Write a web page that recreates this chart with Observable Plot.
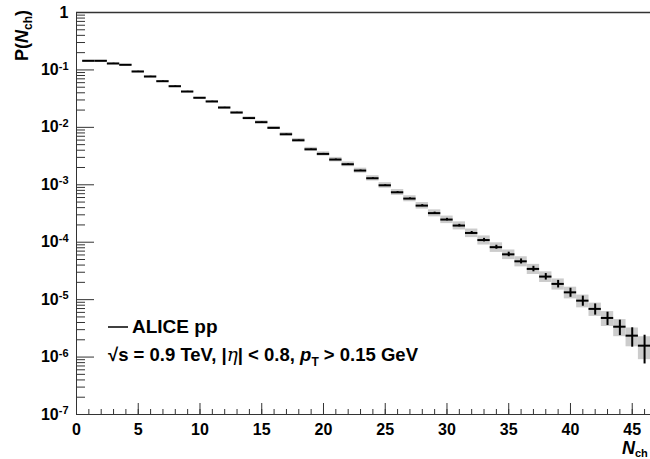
<!DOCTYPE html>
<html><head><meta charset="utf-8">
<script src="https://cdn.jsdelivr.net/npm/d3@7"></script>
<script src="https://cdn.jsdelivr.net/npm/@observablehq/plot@0.6"></script>
<style>html,body{margin:0;padding:0;background:#fff;overflow:hidden} svg{display:block}</style>
</head><body><div id="chart"></div>
<script>
// multiplicity bins (N_ch)
const nch = [1,2,3,4,5,6,7,8,9,10,11,12,13,14,15,16,17,18,19,20,21,22,23,24,25,26,27,28,29,30,31,32,33,34,35,36,37,38,39,40,41,42,43,44,45,46];
// P(N_ch)
const prob = [0.144,0.144,0.1293,0.1227,0.0938,0.0767,0.0636,0.052,0.042,0.0327,0.0282,0.0221,0.0181,0.0145,0.0123,0.0098,0.00758,0.00596,0.00415,0.00345,0.00275,0.00228,0.00177,0.0013,0.00098,0.00074,0.000575,0.000434,0.000321,0.000248,0.000195,0.000145,0.000109,8.2e-5,6.15e-5,4.65e-5,3.43e-5,2.52e-5,1.88e-5,1.34e-5,9.6e-6,6.9e-6,4.8e-6,3.38e-6,2.36e-6,1.58e-6];
// relative statistical errors (vertical bars)
const statErr = [0.01,0.01,0.01,0.01,0.01,0.01,0.01,0.01,0.01,0.01,0.01,0.01,0.01,0.01,0.01,0.01,0.01,0.01,0.01,0.02,0.02,0.02,0.02,0.02,0.02,0.03,0.03,0.04,0.04,0.05,0.05,0.06,0.07,0.08,0.09,0.10,0.11,0.13,0.15,0.18,0.20,0.22,0.26,0.30,0.37,0.52];
// relative systematic errors (grey boxes)
const systErr = [0.03,0.03,0.03,0.03,0.03,0.03,0.03,0.03,0.03,0.03,0.04,0.045,0.05,0.055,0.06,0.06,0.07,0.075,0.08,0.085,0.09,0.095,0.10,0.105,0.11,0.115,0.12,0.13,0.14,0.15,0.16,0.17,0.18,0.19,0.19,0.20,0.20,0.21,0.22,0.23,0.25,0.26,0.29,0.33,0.36,0.43];
// axis ticks
const xMajorTicks = [0,5,10,15,20,25,30,35,40,45];
const xMinorTicks = [0,1,2,3,4,5,6,7,8,9,10,11,12,13,14,15,16,17,18,19,20,21,22,23,24,25,26,27,28,29,30,31,32,33,34,35,36,37,38,39,40,41,42,43,44,45,46];
const yDecades = [1e-7,1e-6,1e-5,1e-4,1e-3,1e-2,1e-1,1];
const yMinorMult = [2,3,4,5,6,7,8,9];
const legendEntry = "ALICE pp";

const rows = nch.map((n, i) => ({n, p: prob[i], stat: statErr[i], syst: systErr[i]}));
const yMinor = yDecades.slice(0, -1).flatMap(d => yMinorMult.map(m => m * d));
const axisColor = "#333";
const font = "'Liberation Sans', Arial, sans-serif";

const svg = Plot.plot({
  width: 650, height: 459,
  marginLeft: 76, marginRight: 0, marginTop: 12, marginBottom: 45,
  style: {fontFamily: font, fontWeight: "bold", fontSize: "16px", background: "#fff", overflow: "visible"},
  x: {domain: [0, 46.48], label: null},
  y: {type: "log", domain: [1e-7, 1], label: null},
  marks: [
    Plot.rect(rows, {x1: d => d.n - 0.5, x2: d => d.n + 0.5, y1: d => d.p * (1 - d.syst), y2: d => d.p * (1 + d.syst), fill: "#cccccc"}),
    Plot.ruleX(rows, {x: "n", y1: d => d.p * (1 - d.stat), y2: d => d.p * (1 + d.stat), stroke: "black", strokeWidth: 2}),
    Plot.ruleY(rows, {y: "p", x1: d => d.n - 0.5, x2: d => d.n + 0.5, stroke: "black", strokeWidth: 2}),
    // frame
    Plot.ruleY([1], {stroke: axisColor, strokeWidth: 1.5}),
    Plot.ruleY([1e-7], {stroke: axisColor}),
    Plot.ruleX([0], {stroke: axisColor}),
    // inward ticks
    Plot.axisX(xMinorTicks, {tickSize: -5, tickFormat: () => "", stroke: axisColor, label: null}),
    Plot.axisX(xMajorTicks, {tickSize: -11, tickFormat: () => "", stroke: axisColor, label: null}),
    Plot.axisX(xMajorTicks, {tickSize: 0, tickPadding: 9, tickFormat: d => String(d), label: null, fill: "black"}),
    Plot.axisY(yMinor, {tickSize: -9, tickFormat: () => "", stroke: axisColor, label: null}),
    Plot.axisY(yDecades, {tickSize: -18, tickFormat: () => "", stroke: axisColor, label: null}),
    Plot.axisY(yDecades, {tickSize: 0, tickPadding: 8, label: null, fill: "black",
      tickFormat: d => d === 1 ? "1" : "10^" + Math.round(Math.log10(d))})
  ]
});

const s = d3.select(svg);
s.selectAll('g[aria-label="y-axis tick label"] text').each(function () {
  const t = this.textContent;
  if (t.includes("^")) {
    const [b, e] = t.split("^");
    this.textContent = b;
    d3.select(this).append("tspan").attr("dy", "-0.5em").attr("font-size", "11px").text(e);
  }
});
s.selectAll('g[aria-label$="tick label"]').attr("font-weight", "bold");

function addText(attrs) {
  const t = s.append("text").attr("text-anchor", "start").attr("font-family", font).attr("font-weight", "bold").attr("fill", "black");
  for (const k in attrs) t.attr(k, attrs[k]);
  return t;
}
// y title
const yt = addText({transform: "translate(28,10) rotate(-90)", "font-size": "18px"}).attr("text-anchor", "end");
yt.append("tspan").text("P(");
yt.append("tspan").attr("font-style", "italic").text("N");
yt.append("tspan").attr("font-size", "12px").attr("dy", 4).text("ch");
yt.append("tspan").attr("dy", -4).text(")");
// x title
const xt = addText({x: 622, y: 454, "font-size": "18px"});
xt.append("tspan").attr("font-style", "italic").text("N");
xt.append("tspan").attr("font-size", "11px").attr("dy", 3).text("ch");
// legend
s.append("line").attr("x1", 108).attr("x2", 128).attr("y1", 327).attr("y2", 327).attr("stroke", "black").attr("stroke-width", 1.5);
addText({x: 132, y: 333, "font-size": "19px"}).text(legendEntry);
const lt = addText({x: 108, y: 361, "font-size": "18.5px"});
lt.append("tspan").text("\u221As = 0.9 TeV, |");
lt.append("tspan").attr("font-style", "italic").attr("font-weight", "normal").attr("font-family", "'DejaVu Serif', serif").text("\u03B7");
lt.append("tspan").text("| < 0.8, ");
lt.append("tspan").attr("font-style", "italic").text("p");
lt.append("tspan").attr("font-size", "12px").attr("dy", 5).text("T");
lt.append("tspan").attr("dy", -5).text(" > 0.15 GeV");

document.getElementById("chart").appendChild(svg);
</script>
</body></html>
